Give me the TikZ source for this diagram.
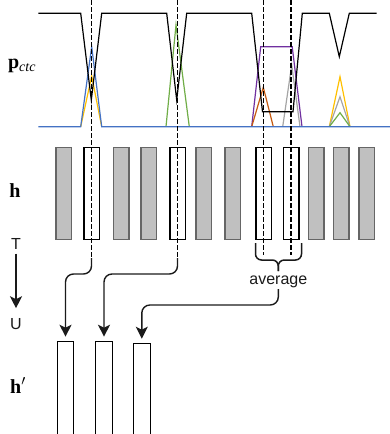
\documentclass[tikz,border=0pt]{standalone}
\usepackage{fontspec}
\setmainfont{Liberation Serif}
\setsansfont{Liberation Sans}
\usetikzlibrary{arrows.meta}
\definecolor{pblue}{HTML}{4472C4}
\definecolor{porange}{HTML}{FFC000}
\definecolor{pgreen}{HTML}{70AD47}
\definecolor{ppurple}{HTML}{7030A0}
\definecolor{pbrown}{HTML}{C55A11}
\definecolor{pgray}{HTML}{A5A5A5}
\definecolor{hfill}{HTML}{C0C0C0}
\definecolor{hdraw}{HTML}{666666}
\definecolor{conncol}{HTML}{1A1A1A}
\tikzset{
  plotline/.style={line width=1.2pt, line join=miter},
  graybox/.style={draw=hdraw, fill=hfill, line width=1.2pt, minimum width=15.5pt, minimum height=92pt, inner sep=0pt},
  whitebox/.style={draw=black, fill=white, line width=1.5pt, minimum width=15.5pt, minimum height=92pt, inner sep=0pt},
  outbox/.style={draw=black, fill=white, line width=1.5pt, minimum height=110pt, inner sep=0pt, anchor=north},
  dashline/.style={draw=black, line width=1.7pt, dash pattern=on 4.5pt off 2.5pt},
  conn/.style={draw=conncol, line width=1.4pt, rounded corners=8pt, -{Stealth[length=12pt,width=12pt,inset=3pt]}},
  bracestyle/.style={draw=conncol, line width=1.5pt, rounded corners=6pt},
  sflabel/.style={font=\sffamily\fontsize{16}{18}\selectfont, text=conncol, inner sep=0pt},
  serlabel/.style={font=\fontsize{20}{22}\selectfont, inner sep=0pt}
}
\begin{document}
\begin{tikzpicture}[x=1pt,y=-1pt]
\useasboundingbox (0,0) rectangle (390,434);

% ---- CTC probability plot ----
\draw[plotline, porange] (80.7,126.7) -- (91.7,76) -- (101.7,126.7);
\draw[plotline, pgreen] (166,126.7) -- (176,25) -- (189.3,126.7);
\draw[plotline, ppurple] (251.7,126.7) -- (260.7,46.7) -- (292.2,46.7) -- (302,126.7);
\draw[plotline, pbrown] (251.7,126.7) -- (263.3,87.3) -- (273.3,126.7);
\draw[plotline, pgray] (282.7,126.7) -- (291.7,65) -- (300,126.7);
\draw[plotline, porange] (329.3,126.7) -- (340,76.7) -- (350,126.7);
\draw[plotline, pgray] (329.3,126.7) -- (340,96.7) -- (350,126.7);
\draw[plotline, pgreen] (329.3,126.7) -- (340,112.7) -- (350,126.7);
\draw[plotline, pblue] (38.3,126.7) -- (80.7,126.7) -- (91.7,46.7) -- (101.7,126.7) -- (390,126.7);
\draw[plotline, black] (38.3,13.3) -- (80.7,13.3) -- (91.3,100) -- (101.7,13.3)
  -- (166.7,13.3) -- (176.7,100) -- (186.7,13.3) -- (251.7,13.3)
  -- (262.5,111.7) -- (293,111.7) -- (302.3,13.3) -- (329.3,13.3)
  -- (339.3,56.7) -- (349.3,13.3) -- (376.7,13.3);

% ---- labels ----
\node[serlabel] (pctc) at (22,66) {\textbf{p}\textsubscript{\textit{ctc}}};
\node[serlabel] (hlab) at (15,191) {\textbf{h}};
\node[serlabel, anchor=base west] (hplab) at (10,393) {\textbf{h}$'$};
\node[sflabel] (T) at (16,244) {T};
\node[sflabel] (U) at (16,324) {U};
\draw[draw=conncol, line width=1.4pt, -{Stealth[length=12pt,width=12pt,inset=3pt]}, shorten <=4pt, shorten >=10pt] (T) -- (U);

% ---- encoder frames h ----
\node[graybox] (r1) at (63.8,193.3) {};
\node[whitebox] (r2) at (91.5,193.3) {};
\node[graybox] (r3) at (121.3,193.3) {};
\node[graybox] (r4) at (148.7,193.3) {};
\node[whitebox] (r5) at (177.5,193.3) {};
\node[graybox] (r6) at (203.7,193.3) {};
\node[graybox] (r7) at (232.8,193.3) {};
\node[whitebox] (r8) at (263.6,193.3) {};
\node[whitebox] (r9) at (291.3,193.3) {};
\node[graybox] (r10) at (316.2,193.3) {};
\node[graybox] (r11) at (341.2,193.3) {};
\node[graybox] (r12) at (366.8,193.3) {};

% ---- dashed spike markers ----
\coordinate (d1t) at (91.5,0);   \coordinate (d1b) at (91.5,258);
\coordinate (d2t) at (177.5,0);  \coordinate (d2b) at (177.5,258);
\coordinate (d3t) at (263.6,0);  \coordinate (d3b) at (263.6,255);
\coordinate (d4t) at (291.3,0);  \coordinate (d4b) at (291.3,255);
\draw[dashline] (d1t) -- (d1b);
\draw[dashline] (d2t) -- (d2b);
\draw[dashline] (d3t) -- (d3b);
\draw[dashline] (d4t) -- (d4b);

% ---- brace + average ----
\draw[bracestyle] (255.5,243) |- (278.3,260) -- (278.3,271);
\draw[bracestyle] (301.5,243) |- (278.3,260) -- (278.3,271);
\node[sflabel, anchor=base, inner sep=1pt] (avg) at (278.3,284.5) {average};

% ---- output frames h' ----
\node[outbox, minimum width=15.6pt] (o1) at (65.5,340.7) {};
\node[outbox, minimum width=16.6pt] (o2) at (104,340.7) {};
\node[outbox, minimum width=17pt] (o3) at (141.8,342.7) {};

% ---- connectors ----
\draw[conn, shorten >=4pt] (d1b) -- (91.5,274) -- (o1.north |- 0,274) -- (o1.north);
\draw[conn, shorten >=4pt] (d2b) -- (177.5,274) -- (o2.north |- 0,274) -- (o2.north);
\draw[conn, shorten >=4pt] (avg.south) -- (278.3,305) -- (o3.north |- 0,305) -- (o3.north);
\end{tikzpicture}
\end{document}
